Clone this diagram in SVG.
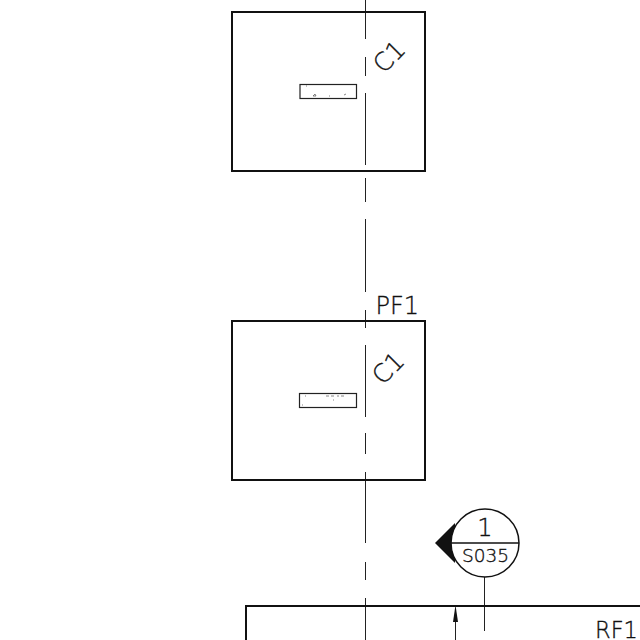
<svg xmlns="http://www.w3.org/2000/svg" width="640" height="640" viewBox="0 0 640 640">
<style>
.t{font-family:"DejaVu Sans","Noto Sans",sans-serif;fill:#111;stroke:#111;stroke-width:.35;font-weight:200}
.b{fill:none;stroke:#111;stroke-width:2}
.c{fill:none;stroke:#222;stroke-width:1}
.s{fill:#fff;stroke:#222;stroke-width:1.200}
.sp{fill:none;stroke:#555;stroke-width:.7}
</style>
<rect width="640" height="640" fill="#fff"/>
<g id="connectors">
<path class="c" d="M365.500 0V39M365.500 57V76M365.500 93V165M365.500 178V202M365.500 219V292M365.500 310V328M365.500 345V417M365.500 433V454M365.500 472V543M365.500 562V580M365.500 598V640"/>
<path class="c" d="M484.500 577V631"/>
<path class="c" d="M455.500 621V640"/>
<path d="M455.500 605L453 622H458Z" fill="#111"/>
</g>
<g id="node-c1-top">
<rect class="b" x="232" y="12" width="193" height="159"/>
<rect class="s" x="300" y="84.500" width="56.500" height="14"/>
<path class="sp" d="M313 96l2-2 1 2zM306 86h1M329 96h1M344 95l2-1"/>
<text class="t" transform="translate(383.500 74.500) rotate(-45)" font-size="25">C1</text>
</g>
<g id="node-pf1">
<rect class="b" x="232" y="321" width="193" height="159"/>
<rect class="s" x="299.500" y="393.500" width="57" height="14"/>
<path class="sp" d="M326 396h3M331 396h3M337 396h2M341 396h3M333 400h1M305 396h1M302 405h1"/>
<text class="t" transform="translate(382.500 386) rotate(-45)" font-size="25">C1</text>
<text class="t" x="375.500" y="314" font-size="24">PF1</text>
</g>
<g id="node-callout">
<path d="M435 543L455 523V563Z" fill="#111"/>
<circle cx="485" cy="543" r="34" fill="#fff" stroke="#111" stroke-width="1.500"/>
<path d="M451 543H519" stroke="#111" stroke-width="1.500"/>
<text class="t" x="485" y="536" font-size="24" text-anchor="middle">1</text>
<text class="t" x="485.500" y="562" font-size="18.500" text-anchor="middle">S035</text>
</g>
<g id="node-rf1">
<path class="b" d="M246 640V606H640"/>
<text class="t" x="595" y="638" font-size="22.500">RF1</text>
</g>
</svg>
